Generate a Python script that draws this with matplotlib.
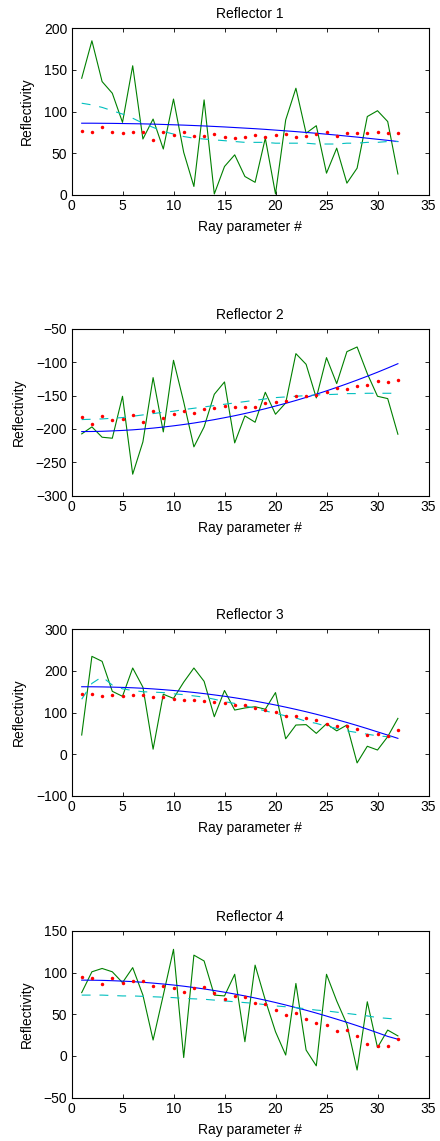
import numpy as np
import matplotlib.pyplot as plt

plt.rcParams['font.family'] = ['Liberation Sans', 'DejaVu Sans']

ray = np.arange(1, 33)

# Reflector 1
r1_data = [140, 185, 136, 122, 87, 155, 67, 91, 55, 115, 51, 10, 114, 1, 34, 48,
           22, 15, 68, 1, 90, 128, 74, 83, 26, 56, 14, 32, 94, 101, 88, 25]
r1_dots = [77, 76, 81, 75, 74, 75, 76, 66, 75, 72, 75, 71, 71, 73, 70, 68,
           70, 72, 70, 72, 73, 70, 71, 73, 76, 71, 74, 74, 74, 75, 74, 74]
r1_fit = [86.0, 86.0, 85.9, 85.8, 85.6, 85.4, 85.2, 84.9, 84.5, 84.1, 83.7, 83.2,
          82.7, 82.1, 81.5, 80.8, 80.1, 79.4, 78.6, 77.7, 76.8, 75.9, 74.9, 73.9,
          72.8, 71.7, 70.5, 69.3, 68.0, 66.7, 65.4, 64.0]
r1_smooth = [110, 108, 105, 101, 97, 92, 86, 81, 76, 73, 70, 68, 67, 66, 65, 64,
             63, 63, 63, 62, 62, 62, 62, 61, 61, 61, 62, 62, 63, 63, 64, 64]

# Reflector 2
r2_data = [-207.5, -197, -212.5, -214, -151, -268, -219.5, -123, -204.5, -97,
           -159.5, -227, -197, -148, -129.5, -221, -180.5, -190, -145, -178, -161,
           -87, -103, -153.5, -93, -132, -84, -77, -117, -151, -154.5, -208]
r2_dots = [-182.5, -192.5, -180.5, -186.5, -185.5, -179, -190, -173.5, -183.5,
           -177.5, -173.5, -175.5, -170, -169, -165.5, -167.5, -167, -166.5, -161,
           -159, -158.5, -150, -150, -148.5, -144.5, -138.5, -140, -136, -133.5,
           -128, -129.5, -126]
r2_fit = [-204.0, -203.9, -203.6, -203.0, -202.3, -201.4, -200.2, -198.8, -197.2,
          -195.4, -193.4, -191.2, -188.7, -186.1, -183.2, -180.2, -176.9, -173.4,
          -169.7, -165.7, -161.6, -157.3, -152.7, -147.9, -142.9, -137.7, -132.3,
          -126.7, -120.9, -114.9, -108.6, -102.1]
r2_smooth = [-186, -185.5, -185, -184, -183, -181, -179, -177, -175, -173.5, -171,
             -169, -167, -165, -163, -161, -159, -157, -155, -153, -152, -151, -150,
             -149, -148.5, -148, -147, -147, -146.5, -146.5, -146.5, -146.5]

# Reflector 3
r3_data = [46, 235, 223, 151, 139, 207, 161, 12, 144, 134, 173, 207, 175, 90, 153,
           106, 111, 114, 108, 148, 37, 70, 71, 50, 73, 56, 70, -21, 19, 10, 42, 86]
r3_dots = [144, 144, 140, 143, 139, 143, 143, 137, 137, 133, 129, 131, 127, 125, 123,
           119, 117, 110, 106, 102, 91, 91, 86, 81, 72, 67, 68, 60, 45, 48, 43, 59]
r3_fit = [162, 161.9, 161.6, 161.1, 160.4, 159.5, 158.3, 156.8, 155, 153, 150.8,
          148.3, 145.5, 142.4, 139.1, 135.5, 131.6, 127.4, 122.9, 118.1, 113, 107.6,
          101.9, 95.9, 89.6, 83, 76.1, 68.9, 61.4, 53.6, 45.9, 38]
r3_smooth = [132, 170, 186, 166, 157, 153, 150, 149, 148, 145, 143, 140, 137, 132,
             126, 122, 116, 110, 104, 98, 92, 87, 79, 74, 67, 62, 56, 52, 48, 44, 42, 40]

# Reflector 4
r4_data = [76, 101, 105, 101, 88, 106, 73, 19, 73, 128, -2, 121, 114, 73, 72, 98,
           17, 109, 67, 29, 1, 87, 7, -12, 98, 66, 38, -17, 65, 10, 31, 24]
r4_dots = [95, 93, 86, 93, 88, 90, 90, 84, 84, 82, 77, 82, 83, 75, 68, 72, 71, 64,
           62, 55, 49, 51, 44, 39, 37, 30, 31, 24, 14, 12, 12, 20]
r4_fit = [91, 90.9, 90.7, 90.3, 89.8, 89.2, 88.4, 87.4, 86.3, 85.1, 83.7, 82.1,
          80.4, 78.5, 76.5, 74.3, 72, 69.5, 66.9, 64.1, 61.1, 58, 54.8, 51.4, 47.8,
          44.1, 40.3, 36.3, 32.1, 27.8, 23.4, 20]
r4_smooth = [73, 73, 73, 72.5, 72, 72, 71.5, 71, 70.5, 70, 69, 68.5, 68, 67, 66, 65,
             64, 63, 61.5, 60, 59, 58, 56.5, 55, 54, 52.5, 51, 49.5, 48, 46, 45, 44]

titles = ['Reflector 1', 'Reflector 2', 'Reflector 3', 'Reflector 4']
ylims = [(0, 200), (-300, -50), (-100, 300), (-50, 150)]
yticks = [np.arange(0, 201, 50), np.arange(-300, -49, 50),
          np.arange(-100, 301, 100), np.arange(-50, 151, 50)]
panels = [(r1_data, r1_dots, r1_fit, r1_smooth),
          (r2_data, r2_dots, r2_fit, r2_smooth),
          (r3_data, r3_dots, r3_fit, r3_smooth),
          (r4_data, r4_dots, r4_fit, r4_smooth)]

W, H = 440, 1141
fig = plt.figure(figsize=(W / 100, H / 100), dpi=100)
tops = [28.3, 329, 629.3, 931]
for i, (data, dots, fit, smooth) in enumerate(panels):
    ax_h = 166.5
    ax = fig.add_axes([71.5 / W, 1 - (tops[i] + ax_h) / H, 357 / W, ax_h / H])
    ax.plot(ray, data, color='#008000', lw=0.8)
    ax.plot(ray, fit, color='#0000ff', lw=0.8)
    ax.plot(ray, smooth, color='#00bfbf', lw=0.8, ls=(0, (8, 8)))
    ax.plot(ray, dots, ls='none', marker='o', ms=2.5, color='#ff0000', mew=0)
    ax.set_xlim(0, 35)
    ax.set_ylim(*ylims[i])
    ax.set_xticks(np.arange(0, 36, 5))
    ax.set_yticks(yticks[i])
    ax.tick_params(direction='in', top=True, right=True, labelsize=10,
                   length=3, width=0.6, pad=3)
    for sp in ax.spines.values():
        sp.set_linewidth(0.8)
    ax.set_title(titles[i], fontsize=10, pad=7.5)
    ax.set_xlabel('Ray parameter #', fontsize=10, labelpad=5)
    ax.set_ylabel('Reflectivity', fontsize=10, labelpad=7)

fig.savefig('out.png', dpi=100)
